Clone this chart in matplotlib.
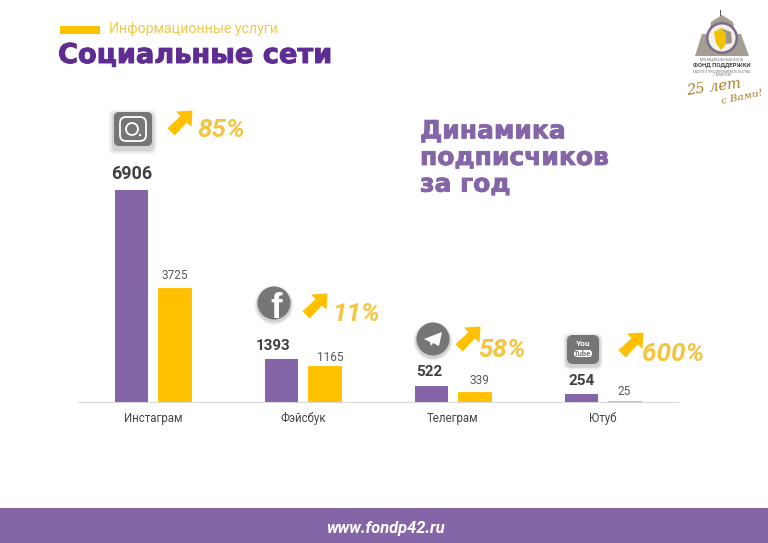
import numpy as np
import matplotlib
matplotlib.use("Agg")
import matplotlib.pyplot as plt
import matplotlib.patheffects as pe
from matplotlib.patches import Rectangle, FancyBboxPatch, Circle, Polygon, Wedge

# ============================================================
# DATA
# ============================================================

categories = ["Инстаграм", "Фэйсбук", "Телеграм", "Ютуб"]
current = [6906, 1393, 522, 254]
previous = [3725, 1165, 339, 25]
growth = ["85%", "11%", "58%", "600%"]

PURPLE = "#8465a8"
YELLOW = "#ffc000"
TITLE = "#5f2d91"
GREY = "#767676"

W, H = 768, 543

# label placement, in pixels from the top of each bar
current_offsets = [(0, 16), (-9, 13), (-2, 14), (0, 13)]
previous_offsets = [(0, 12), (6, 9), (5, 11), (0, 10)]
current_sizes = [13, 11, 11, 11]

fig = plt.figure(figsize=(W / 100, H / 100), dpi=100)
plt.rcParams["font.family"] = ["Roboto", "DejaVu Sans"]

# ============================================================
# CHART
# ============================================================

ax = fig.add_axes([78 / W, 1 - 402 / H, 600 / W, 212 / H])
x = np.arange(len(categories))
width = 0.22

ax.bar(x - 0.143, current, width, color=PURPLE, zorder=3)
ax.bar(x + 0.143, previous, width, color=YELLOW, edgecolor=YELLOW, linewidth=0.6, zorder=3)

ax.set_xlim(-0.5, 3.5)
ax.set_ylim(0, 6906)
ax.set_yticks([])
ax.set_xticks(x, categories)
ax.tick_params(axis="x", length=0, pad=7, labelsize=8.3, labelcolor="#444444")
for side in ["top", "left", "right"]:
    ax.spines[side].set_visible(False)
ax.spines["bottom"].set_color("#d9d9d9")
ax.spines["bottom"].set_zorder(1)

for i in x:
    ax.annotate(str(current[i]), (i - 0.143, current[i]), xytext=current_offsets[i],
                textcoords="offset pixels", ha="center", va="center",
                fontsize=current_sizes[i], fontweight="bold", color="#404040", annotation_clip=False)
    ax.annotate(str(previous[i]), (i + 0.143, previous[i]), xytext=previous_offsets[i],
                textcoords="offset pixels", ha="center", va="center",
                fontsize=8.5, color="#595959", annotation_clip=False)

# ============================================================
# OVERLAY (pixel coordinates)
# ============================================================

ov = fig.add_axes([0, 0, 1, 1], facecolor="none")
ov.set_xlim(0, W)
ov.set_ylim(H, 0)
ov.axis("off")

# header
ov.add_patch(Rectangle((60, 26), 40, 8, color=YELLOW, lw=0))
ov.text(109, 28.5, "Информационные услуги", fontsize=10.2, color="#f2c94c", va="center")
ov.text(58, 56, "Социальные сети", fontsize=19.6, fontweight="bold", color=TITLE, va="center",
        family="DejaVu Sans", path_effects=[pe.withStroke(linewidth=0.7, foreground=TITLE)])

ov.text(420, 158, "Динамика\nподписчиков\nза год", fontsize=18, fontweight="bold",
        family="DejaVu Sans", color=PURPLE, va="center", linespacing=1.14,
        path_effects=[pe.withStroke(linewidth=0.6, foreground=PURPLE)])

# footer
ov.add_patch(Rectangle((0, 508), W, 35, color=PURPLE, lw=0))
ov.text(385, 528, "www.fondp42.ru", fontsize=11.8, fontweight="bold", style="italic",
        color="white", ha="center", va="center")


def arrow(cx, cy):
    # diagonal block arrow pointing up-right, about 25 px across
    s = 12.5
    pts = [(-1, 0.42), (0.05, -0.55), (-0.32, -0.92), (1, -1), (0.92, 0.32),
           (0.55, -0.05), (-0.42, 1)]
    ov.add_patch(Polygon([(cx + px * s, cy + py * s) for px, py in pts], color=YELLOW, lw=0))


arrows = [(180, 123), (315, 306), (468, 339), (631, 345)]
labels = [(197, 130), (332, 314), (478, 350), (642, 354)]
for (ax_, ay_), (lx, ly), g in zip(arrows, labels, growth):
    arrow(ax_, ay_)
    ov.text(lx, ly, g, fontsize=18.8, fontweight="bold", style="italic", color="#f5c542", va="center")

# instagram icon
for grow, a in [(5, 0.04), (3.5, 0.06), (2, 0.08)]:
    ov.add_patch(FancyBboxPatch((114 - grow, 114 - grow + 1), 38 + 2 * grow, 34 + 2 * grow,
                                boxstyle="round,pad=0,rounding_size=5", color="black", alpha=a, lw=0))
ov.add_patch(FancyBboxPatch((114, 112), 38, 34, boxstyle="round,pad=0,rounding_size=5",
                            color=GREY, lw=0))
ov.add_patch(FancyBboxPatch((120, 117), 26, 24, boxstyle="round,pad=0,rounding_size=6",
                            fc="none", ec="white", lw=1.3))
ov.add_patch(Circle((132, 129), 6, fc="none", ec="white", lw=1.3))
ov.add_patch(Circle((140, 135), 1.2, color="white", lw=0))

# facebook icon
for r, a in [(20, 0.04), (18.5, 0.07), (17.5, 0.08)]:
    ov.add_patch(Circle((274, 305), r, color="black", alpha=a, lw=0))
disc = Circle((274, 303), 16.5, color=GREY, lw=0)
ov.add_patch(disc)
f_txt = ov.text(276, 309, "f", fontsize=25, fontweight="bold", color="white", ha="center", va="center",
                family="Liberation Sans")
f_txt.set_clip_path(disc)

# telegram icon
for r, a in [(20, 0.04), (18.5, 0.07), (17.5, 0.08)]:
    ov.add_patch(Circle((433, 341), r, color="black", alpha=a, lw=0))
ov.add_patch(Circle((433, 339), 16.5, color=GREY, lw=0))
ov.add_patch(Polygon([(424, 339), (442, 332), (439, 346), (433, 343), (431, 346), (430, 342)],
                     color="white", lw=0))

# youtube icon
for grow, a in [(4, 0.04), (2.5, 0.07), (1.5, 0.08)]:
    ov.add_patch(FancyBboxPatch((567 - grow, 336 - grow + 1), 32 + 2 * grow, 29 + 2 * grow,
                                boxstyle="round,pad=0,rounding_size=6", color="black", alpha=a, lw=0))
ov.add_patch(FancyBboxPatch((567, 335), 32, 29, boxstyle="round,pad=0,rounding_size=6",
                            color=GREY, lw=0))
ov.text(583, 344, "You", fontsize=6, fontweight="bold", color="white", ha="center", va="center")
ov.add_patch(FancyBboxPatch((574, 350), 18, 7, boxstyle="round,pad=0,rounding_size=3",
                            color="white", lw=0))
ov.text(583, 353.5, "Tube", fontsize=5.5, fontweight="bold", color=GREY, ha="center", va="center")

# logo
ov.add_patch(Polygon([(695, 56), (702, 34), (709, 34), (711, 22), (722, 15), (733, 22), (735, 34),
                      (741, 34), (749, 56)], color="#a39d92", lw=0))
ov.add_patch(Rectangle((719.5, 10), 1, 6, color="#555555", lw=0))
ov.add_patch(Wedge((722, 38), 16, 0, 360, color="#7d6a8c", lw=0))
ov.add_patch(Circle((722, 38), 13.5, color="#f3f0e8", lw=0))
ov.add_patch(Polygon([(714, 32), (721, 28), (726, 34), (726, 44), (721, 50), (716, 43)],
                     color="#f2c200", lw=0))
ov.add_patch(Polygon([(721, 28), (731, 32), (732, 43), (726, 44), (726, 34)], color="#9a948a", lw=0))
ov.text(722, 60, "МУНИЦИПАЛЬНЫЙ ФОНД", fontsize=2.5, color="#777777", ha="center", va="center")
ov.text(722, 65.5, "ФОНД ПОДДЕРЖКИ", fontsize=4.3, fontweight="bold", color="#444444", ha="center", va="center")
ov.text(722, 71, "МАЛОГО ПРЕДПРИНИМАТЕЛЬСТВА", fontsize=2.4, color="#777777", ha="center", va="center")
ov.text(722, 75.5, "г. КЕМЕРОВО", fontsize=2.2, color="#777777", ha="center", va="center")
ov.text(714, 87, "25 лет", fontsize=10.5, style="italic", color="#a87f2a", ha="center", va="center",
        rotation=8, family="DejaVu Serif")
ov.text(742, 97, "с Вами!", fontsize=7.5, style="italic", color="#a87f2a", ha="center", va="center",
        rotation=12, family="DejaVu Serif")

fig.savefig("out.png", dpi=100)
